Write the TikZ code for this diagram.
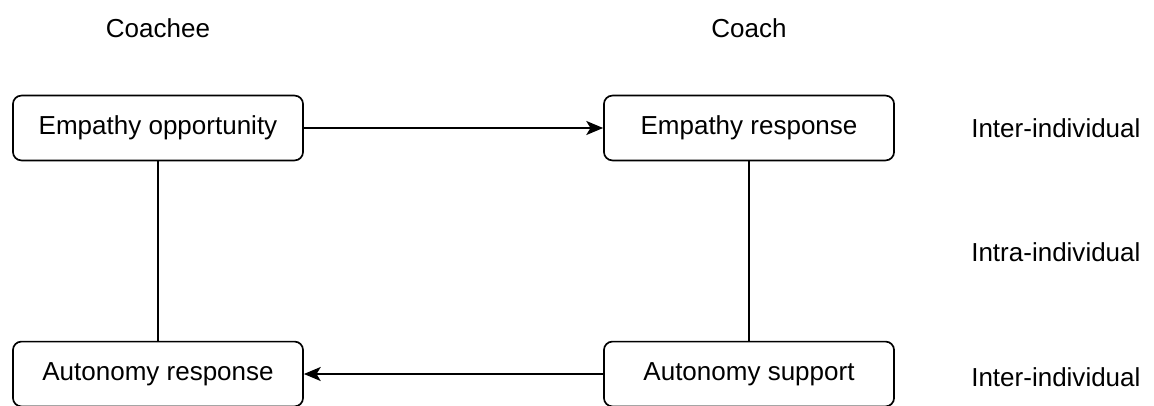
\documentclass[tikz,border=0pt]{standalone}
\usepackage{fontspec}
\setmainfont{Liberation Sans}
\usepackage{tikz}
\usetikzlibrary{positioning,arrows.meta,shapes}

\tikzset{
    phase/.style={draw, line width=1.2pt, rounded corners=6pt, minimum width=7.25cm, minimum height=1.62cm, inner sep=0pt, font=\fontsize{18.5}{22}\selectfont},
    heading/.style={font=\fontsize{18.5}{22}\selectfont, inner sep=0pt},
    link/.style={line width=1.1pt},
    flow/.style={link, -{Stealth[length=12pt, width=10pt, inset=3pt]}}
}

\begin{document}
\begin{tikzpicture}[x=0.025cm, y=-0.025cm]

        \useasboundingbox (0, 0) rectangle (1154, 406);

        % column headings
        \node[heading] (coachee) at (158, 28) {Coachee};
        \node[heading] (coach) at (749, 28) {Coach};

        \node[phase] (opportunity) at (158, 128) {Empathy opportunity};
        \node[phase] (response) at (749, 128) {Empathy response};
        \node[phase] (autonomy) at (158, 374) {Autonomy response};
        \node[phase] (support) at (749, 374) {Autonomy support};

        % level labels on the right
        \node[heading, anchor=west] (inter1) at (971, 128) {Inter-individual};
        \node[heading, anchor=west] (intra) at (971, 252) {Intra-individual};
        \node[heading, anchor=west] (inter2) at (971, 377) {Inter-individual};

        \draw[flow] (opportunity) -- (response);
        \draw[flow] (support) -- (autonomy);
        \draw[link] (opportunity) -- (autonomy);
        \draw[link] (response) -- (support);

    \end{tikzpicture}
\end{document}
